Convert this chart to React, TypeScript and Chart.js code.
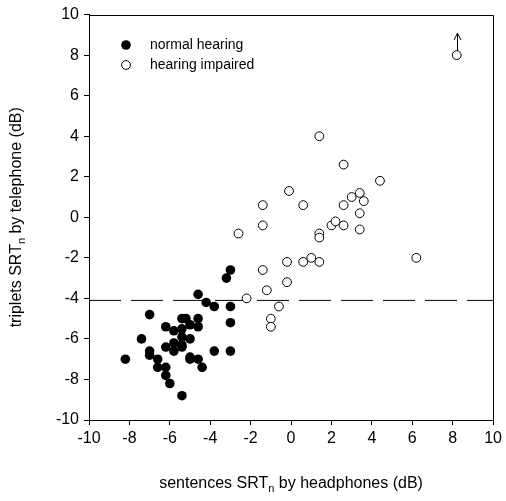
import React, { useEffect, useRef } from 'react';
import { Chart, registerables } from 'chart.js';
Chart.register(...registerables);

const normalX = [-3.0, -3.2, -4.6, -4.2, -3.8, -3.0, -7.0, -3.0, -5.4, -5.2, -4.6, -6.2, -5.8, -5.4, -5.0, -4.6, -5.4, -5.0, -5.8, -6.2, -5.4, -5.8, -5.0, -4.6, -5.0, -4.4, -7.4, -3.8, -3.0, -8.2, -7.0, -7.0, -6.6, -6.6, -6.2, -6.2, -6.0, -5.4, -5.4];
const normalY = [-2.6, -3.0, -3.8, -4.2, -4.4, -4.4, -4.8, -5.2, -5.0, -5.0, -5.0, -5.4, -5.6, -5.5, -5.3, -5.4, -5.9, -6.0, -6.2, -6.4, -6.4, -6.6, -6.9, -7.0, -7.0, -7.4, -6.0, -6.6, -6.6, -7.0, -6.6, -6.8, -7.0, -7.4, -7.4, -7.8, -8.2, -8.8, -6.3];
const impairedX = [1.4, 2.6, 4.4, -0.1, -1.4, 0.6, 3.0, 3.4, 3.6, 2.6, 3.4, 2.0, 2.2, 2.6, 3.4, -1.4, -2.6, 1.4, 1.4, 6.2, 1.0, 0.6, 1.4, -0.2, -1.4, -0.2, -1.2, -2.2, -0.6, -1.0, -1.0, 8.2];
const impairedY = [4.0, 2.6, 1.8, 1.3, 0.6, 0.6, 1.0, 1.2, 0.8, 0.6, 0.2, -0.4, -0.2, -0.4, -0.6, -0.4, -0.8, -0.8, -1.0, -2.0, -2.0, -2.2, -2.2, -2.2, -2.6, -3.2, -3.6, -4.0, -4.4, -5.0, -5.4, 8.0];
const cutoffY = -4.1;
const axisMin = -10;
const axisMax = 10;
const tickStep = 2;
const legendLabels = ['normal hearing', 'hearing impaired'];
const xTitle = ['sentences SRT', 'n', ' by headphones (dB)'];
const yTitle = ['triplets SRT', 'n', ' by telephone (dB)'];

const FONT = "'Liberation Sans', Arial, sans-serif";

function drawSubTitle(ctx: CanvasRenderingContext2D, parts: string[], cx: number, cy: number, rot: number) {
  ctx.save();
  ctx.translate(cx, cy);
  ctx.rotate(rot);
  const main = `16px ${FONT}`;
  const sub = `11px ${FONT}`;
  ctx.font = main;
  const w0 = ctx.measureText(parts[0]).width;
  const w2 = ctx.measureText(parts[2]).width;
  ctx.font = sub;
  const w1 = ctx.measureText(parts[1]).width;
  const total = w0 + w1 + w2;
  let x = -total / 2;
  ctx.fillStyle = '#000';
  ctx.textBaseline = 'middle';
  ctx.textAlign = 'left';
  ctx.font = main;
  ctx.fillText(parts[0], x, 0);
  x += w0;
  ctx.font = sub;
  ctx.fillText(parts[1], x, 5);
  x += w1;
  ctx.font = main;
  ctx.fillText(parts[2], x, 0);
  ctx.restore();
}

const decorPlugin = {
  id: 'decor',
  afterDraw(chart: any) {
    const { ctx, chartArea } = chart;
    const { left, right, top, bottom } = chartArea;
    ctx.save();
    ctx.strokeStyle = '#000';
    ctx.lineWidth = 1;
    ctx.beginPath();
    ctx.moveTo(left, Math.round(top) + 0.5);
    ctx.lineTo(Math.round(right) + 0.5, Math.round(top) + 0.5);
    ctx.lineTo(Math.round(right) + 0.5, bottom);
    ctx.stroke();

    // arrow on the off-scale point
    const meta = chart.getDatasetMeta(2);
    const pt = meta.data[meta.data.length - 1];
    if (pt) {
      const px = Math.round(pt.x) + 0.5;
      const py = pt.y;
      const tipY = py - 22;
      ctx.beginPath();
      ctx.moveTo(px, py - 4.5);
      ctx.lineTo(px, tipY);
      ctx.stroke();
      ctx.beginPath();
      ctx.moveTo(px - 3.5, tipY + 7);
      ctx.lineTo(px, tipY);
      ctx.lineTo(px + 3.5, tipY + 7);
      ctx.stroke();
    }

    // legend
    ctx.font = `14px ${FONT}`;
    ctx.textBaseline = 'middle';
    ctx.textAlign = 'left';
    ctx.fillStyle = '#000';
    const lx = 126;
    const rows = [45, 65];
    ctx.beginPath();
    ctx.arc(lx, rows[0], 4.8, 0, Math.PI * 2);
    ctx.fill();
    ctx.beginPath();
    ctx.arc(lx, rows[1], 4.4, 0, Math.PI * 2);
    ctx.fillStyle = '#fff';
    ctx.fill();
    ctx.stroke();
    ctx.fillStyle = '#000';
    ctx.fillText(legendLabels[0], 150, rows[0]);
    ctx.fillText(legendLabels[1], 150, rows[1]);

    drawSubTitle(ctx, xTitle, (left + right) / 2, 484, 0);
    drawSubTitle(ctx, yTitle, 17, (top + bottom) / 2, -Math.PI / 2);
    ctx.restore();
  },
};

export default function App() {
  const ref = useRef<HTMLCanvasElement>(null);
  useEffect(() => {
    document.body.style.margin = '0';
    const normal = normalX.map((x, i) => ({ x, y: normalY[i] }));
    const impaired = impairedX.map((x, i) => ({ x, y: impairedY[i] }));
    const tickFont = { family: FONT, size: 16 };
    const chart = new Chart(ref.current!, {
      type: 'scatter',
      data: {
        datasets: [
          {
            type: 'line',
            label: 'cutoff',
            data: [{ x: axisMin, y: cutoffY }, { x: axisMax, y: cutoffY }],
            borderColor: '#000',
            borderWidth: 1,
            borderDash: [32, 10],
            pointRadius: 0,
            order: 10,
          } as any,
          {
            label: legendLabels[0],
            data: normal,
            backgroundColor: '#000',
            borderColor: '#000',
            borderWidth: 0,
            pointRadius: 4.8,
            order: 1,
          },
          {
            label: legendLabels[1],
            data: impaired,
            backgroundColor: '#fff',
            borderColor: '#000',
            borderWidth: 1,
            pointRadius: 4.4,
            order: 0,
          },
        ],
      },
      options: {
        animation: false,
        responsive: false,
        devicePixelRatio: 1,
        layout: { padding: { left: 0, top: 12, right: 9, bottom: 0 } },
        plugins: { legend: { display: false }, tooltip: { enabled: false } },
        scales: {
          x: {
            type: 'linear',
            min: axisMin,
            max: axisMax,
            ticks: { stepSize: tickStep, color: '#000', font: tickFont, padding: 4, maxRotation: 0, autoSkip: false },
            grid: { drawOnChartArea: false, tickLength: 5, color: '#000', tickColor: '#000' },
            border: { display: true, color: '#000', width: 1 },
            afterFit: (s: any) => { s.height = 81; },
          },
          y: {
            type: 'linear',
            min: axisMin,
            max: axisMax,
            ticks: { stepSize: tickStep, color: '#000', font: tickFont, padding: 5, autoSkip: false },
            grid: { drawOnChartArea: false, tickLength: 5, color: '#000', tickColor: '#000' },
            border: { display: true, color: '#000', width: 1 },
            afterFit: (s: any) => { s.width = 89; },
          },
        },
      },
      plugins: [decorPlugin],
    });
    return () => chart.destroy();
  }, []);
  return (
    <div style={{ position: 'absolute', left: 0, top: 0, width: 506, height: 501, background: '#fff' }}>
      <canvas ref={ref} width={506} height={501} style={{ width: 506, height: 501, display: 'block' }} />
    </div>
  );
}
